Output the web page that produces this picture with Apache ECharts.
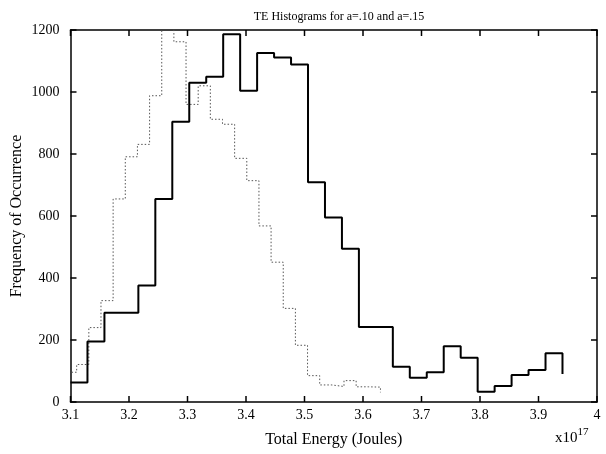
<!DOCTYPE html>
<html>
<head>
<meta charset="utf-8">
<script src="https://cdn.jsdelivr.net/npm/echarts@6/dist/echarts.min.js"></script>
<style>
  html, body { margin: 0; padding: 0; background: #fff; }
  #chart { width: 606px; height: 454px; }
</style>
</head>
<body>
<div id="chart"></div>
<script>
// Histogram for a=.10 (solid): bin edges start and width, counts per bin (last entry is the closing level)
const solidStart = 3.1;
const solidWidth = 0.029;
const solidCounts = [63, 195, 288, 288, 376, 655, 904, 1030, 1049, 1186, 1004, 1126, 1111, 1089,
                     709, 595, 494, 242, 242, 114, 78, 96, 180, 143, 33, 52, 87, 103, 157, 90];

// Histogram for a=.15 (dotted)
const dottedStart = 3.0898;
const dottedWidth = 0.02077;
const dottedCounts = [96, 121, 240, 327, 655, 791, 831, 988, 1240, 1162, 960, 1020, 912, 896,
                      786, 714, 568, 451, 302, 183, 85, 55, 50, 69, 49, 48, 31];

// Axis ticks
const xTicks = [3.1, 3.2, 3.3, 3.4, 3.5, 3.6, 3.7, 3.8, 3.9, 4];
const yTicks = [0, 200, 400, 600, 800, 1000, 1200];

const xMin = xTicks[0], xMax = xTicks[xTicks.length - 1];
const yMin = yTicks[0], yMax = yTicks[yTicks.length - 1];
const TICK_LEN = 6;

const toStairs = (start, width, counts) => counts.map((c, i) => [start + i * width, c]);

const serif = "'Liberation Serif', 'DejaVu Serif', serif";
const axisLine = () => ({ show: true, onZero: false, lineStyle: { color: '#000', width: 1.5 } });
const tickStyle = { stroke: '#000', lineWidth: 1.5 };

const chart = echarts.init(document.getElementById('chart'), null, { renderer: 'canvas' });
chart.setOption({
  animation: false,
  backgroundColor: '#fff',
  title: {
    text: 'TE Histograms for a=.10 and a=.15',
    left: 334, top: 6, textAlign: 'center',
    textStyle: { fontFamily: serif, fontSize: 12, fontWeight: 'normal', color: '#000' }
  },
  grid: { left: 70.5, right: 9, top: 30, bottom: 52, containLabel: false, outerBoundsMode: 'none' },
  xAxis: [{
    type: 'value',
    min: xMin, max: xMax, interval: 0.1,
    axisLine: axisLine(), axisTick: { show: false }, splitLine: { show: false },
    axisLabel: {
      margin: 6, color: '#000', fontFamily: serif, fontSize: 14,
      formatter: v => String(+v.toFixed(1))
    },
    name: 'Total Energy (Joules)', nameLocation: 'middle', nameGap: 30, nameMoveOverlap: false,
    nameTextStyle: { fontFamily: serif, fontSize: 16, color: '#000' }
  }, {
    type: 'value', position: 'top',
    min: xMin, max: xMax, interval: 0.1,
    axisLine: axisLine(), axisTick: { show: false }, splitLine: { show: false },
    axisLabel: { show: false }
  }],
  yAxis: [{
    type: 'value',
    min: yMin, max: yMax, interval: 200,
    axisLine: axisLine(), axisTick: { show: false }, splitLine: { show: false },
    axisLabel: { margin: 11, color: '#000', fontFamily: serif, fontSize: 14, formatter: v => String(v) },
    name: 'Frequency of Occurrence', nameLocation: 'middle', nameGap: 46, nameMoveOverlap: false,
    nameTextStyle: { fontFamily: serif, fontSize: 16, color: '#000' }
  }, {
    type: 'value', position: 'right',
    min: yMin, max: yMax, interval: 200,
    axisLine: axisLine(), axisTick: { show: false }, splitLine: { show: false },
    axisLabel: { show: false }
  }],
  series: [{
    name: 'a=.15', type: 'line', step: 'end', clip: true, silent: true,
    symbol: 'none',
    data: toStairs(dottedStart, dottedWidth, dottedCounts),
    lineStyle: { color: '#555', width: 1, type: [1.5, 2] }
  }, {
    name: 'a=.10', type: 'line', step: 'end', clip: true, silent: true,
    symbol: 'none',
    data: toStairs(solidStart, solidWidth, solidCounts),
    lineStyle: { color: '#000', width: 2 }
  }]
});

// Inward tick marks on all four sides of the box, positioned through the axis scales
const toPx = (x, y) => chart.convertToPixel({ gridIndex: 0 }, [x, y]);
const tickLines = [];
xTicks.forEach(v => {
  const b = toPx(v, yMin), t = toPx(v, yMax);
  tickLines.push({ type: 'line', z: 100, silent: true, shape: { x1: b[0], y1: b[1], x2: b[0], y2: b[1] - TICK_LEN }, style: tickStyle });
  tickLines.push({ type: 'line', z: 100, silent: true, shape: { x1: t[0], y1: t[1], x2: t[0], y2: t[1] + TICK_LEN }, style: tickStyle });
});
yTicks.forEach(v => {
  const l = toPx(xMin, v), r = toPx(xMax, v);
  tickLines.push({ type: 'line', z: 100, silent: true, shape: { x1: l[0], y1: l[1], x2: l[0] + TICK_LEN, y2: l[1] }, style: tickStyle });
  tickLines.push({ type: 'line', z: 100, silent: true, shape: { x1: r[0], y1: r[1], x2: r[0] - TICK_LEN, y2: r[1] }, style: tickStyle });
});

chart.setOption({
  graphic: [{
    type: 'text', left: 555, top: 427,
    style: {
      text: '{b|x10}{s|17}',
      rich: {
        b: { fontFamily: serif, fontSize: 15, fill: '#000', verticalAlign: 'bottom', height: 18 },
        s: { fontFamily: serif, fontSize: 11, fill: '#000', verticalAlign: 'top', height: 18, padding: [0, 0, 6, 0] }
      }
    }
  }].concat(tickLines)
});
</script>
</body>
</html>
